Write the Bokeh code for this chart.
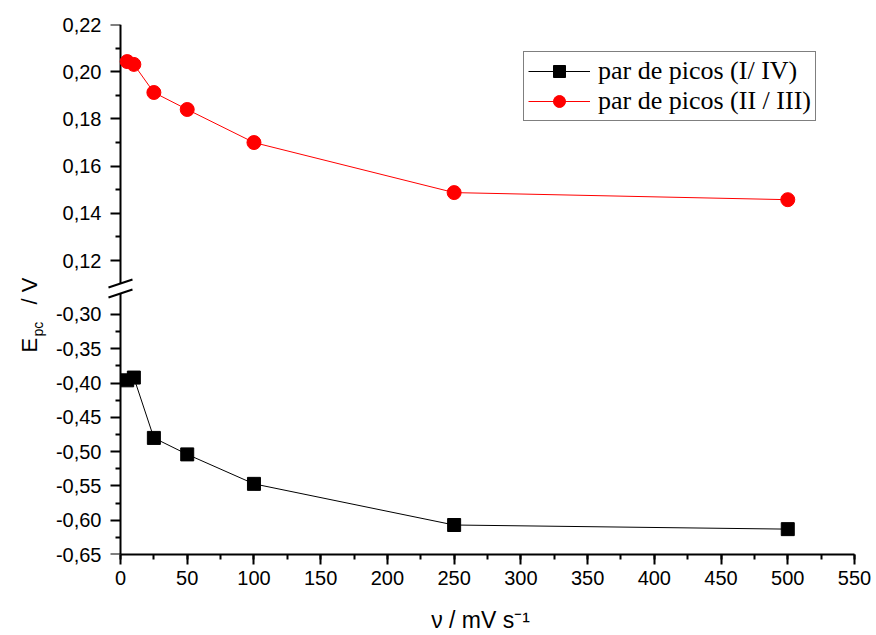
import math
from bokeh.plotting import figure
from bokeh.layouts import row
from bokeh.models import (Range1d, LinearAxis, FixedTicker, SingleIntervalTicker,
                          CustomJSTickFormatter, Label, Legend, LegendItem)
from bokeh.embed import file_html
from bokeh.resources import INLINE

# ---------------- data ----------------
scan_rate = [5, 10, 25, 50, 100, 250, 500]                 # mV s-1
e_pc_I_IV = [-0.396, -0.392, -0.480, -0.504, -0.547, -0.607, -0.613]
e_pc_II_III = [0.2043, 0.2031, 0.1912, 0.1840, 0.1700, 0.1488, 0.1458]

top_ticks = [0.12, 0.14, 0.16, 0.18, 0.20, 0.22]
top_labels = ["0,12", "0,14", "0,16", "0,18", "0,20", "0,22"]
top_minor = [0.13, 0.15, 0.17, 0.19, 0.21]
bottom_ticks = [-0.65, -0.60, -0.55, -0.50, -0.45, -0.40, -0.35, -0.30]
bottom_labels = ["-0,65", "-0,60", "-0,55", "-0,50", "-0,45", "-0,40", "-0,35", "-0,30"]
bottom_minor = [-0.625, -0.575, -0.525, -0.475, -0.425, -0.375, -0.325]

label_I_IV = "par de picos (I/ IV)"
label_II_III = "par de picos (II / III)"
x_title = "ν / mV s⁻¹"

# ---------------- layout geometry (absolute pixels) ----------------
W, H = 876, 635
WL = 50                     # width of the strip holding the y title
FL, FR, FT, FB = 106, 854, 24, 554      # frame edges (absolute)
AX0 = 120                               # pixel of x = 0 (y axis position)
TOP_BREAK, BOT_BREAK = 283, 293         # ends of the two axis segments
TOP_LO, TOP_HI = 0.1103, 0.22           # visible value span of upper segment
BOT_LO, BOT_HI = -0.65, -0.2694         # visible value span of lower segment
X_MAX = 550

top_per_px = (TOP_HI - TOP_LO) / (TOP_BREAK - FT)
y_start = TOP_HI - (FB - FT) * top_per_px
bot_per_px = (BOT_HI - BOT_LO) / (FB - BOT_BREAK)
bot_end = BOT_LO + (FB - FT) * bot_per_px
x_per_px = X_MAX / (FR - AX0)
x_start = -(AX0 - FL) * x_per_px


def px_x(px):
    return (px - AX0) * x_per_px


def px_y(py):
    return TOP_HI - (py - FT) * top_per_px


def bot_to_main(v):
    py = FB - (v - BOT_LO) / bot_per_px
    return px_y(py)


p = figure(width=W - WL, height=H, x_range=Range1d(x_start, X_MAX),
           y_range=Range1d(y_start, TOP_HI), y_axis_location=None,
           output_backend="svg", toolbar_location=None, title=None,
           min_border_left=FL - WL, min_border_right=W - FR,
           min_border_top=FT, min_border_bottom=H - FB)
p.extra_y_ranges = {"bottom": Range1d(BOT_LO, bot_end)}
p.outline_line_color = None
p.xgrid.visible = False
p.ygrid.visible = False
p.background_fill_color = "white"
p.border_fill_color = "white"

# ---------- x axis ----------
xa = p.xaxis[0]
xa.bounds = (0, X_MAX)
xa.ticker = SingleIntervalTicker(interval=50, num_minor_ticks=2)
xa.axis_line_width = 2
xa.major_tick_in = 0
xa.major_tick_out = 10
xa.minor_tick_in = 0
xa.minor_tick_out = 5
xa.major_tick_line_width = 2
xa.minor_tick_line_width = 2
xa.major_label_standoff = 6
xa.major_label_text_font = "Liberation Sans"
xa.major_label_text_font_size = "20px"
xa.major_label_text_color = "black"
xa.axis_label = x_title
xa.axis_label_text_font = "Liberation Sans"
xa.axis_label_text_font_style = "normal"
xa.axis_label_text_font_size = "23px"
xa.axis_label_text_color = "black"
xa.axis_label_standoff = 19

# ---------- y axis (broken) ----------
tick_pos = top_ticks + [bot_to_main(v) for v in bottom_ticks]
tick_lab = top_labels + bottom_labels
minor_pos = top_minor + [bot_to_main(v) for v in bottom_minor]
fmt = CustomJSTickFormatter(args=dict(pos=tick_pos, labs=tick_lab), code="""
let best = 0;
for (let i = 0; i < pos.length; i++) {
  if (Math.abs(pos[i] - tick) < Math.abs(pos[best] - tick)) best = i;
}
return labs[best];
""")
# labels (in the left panel)
ya = LinearAxis(ticker=FixedTicker(ticks=tick_pos, minor_ticks=[]),
                formatter=fmt, axis_line_color=None,
                major_tick_in=0, major_tick_out=0, minor_tick_in=0, minor_tick_out=0,
                major_tick_line_color=None, minor_tick_line_color=None,
                major_label_standoff=5, major_label_text_font="Liberation Sans",
                major_label_text_font_size="20px", major_label_text_color="black")
p.add_layout(ya, "left")
# tick marks at x = 0
yt = LinearAxis(fixed_location=0, ticker=FixedTicker(ticks=tick_pos, minor_ticks=minor_pos),
                formatter=CustomJSTickFormatter(code='return ""'), axis_line_color=None,
                major_tick_in=10, major_tick_out=0, minor_tick_in=5, minor_tick_out=0,
                major_tick_line_width=2, minor_tick_line_width=2,
                major_label_standoff=0, major_label_text_font_size="1px")
p.add_layout(yt, "right")

# axis line segments and break marks
p.segment(x0=[0], y0=[TOP_LO], x1=[0], y1=[TOP_HI], line_color="black", line_width=2)
p.segment(x0=[0], y0=[BOT_LO], x1=[0], y1=[BOT_HI], line_color="black", line_width=2,
          y_range_name="bottom")
p.segment(x0=[px_x(108), px_x(108)], y0=[px_y(287), px_y(297)],
          x1=[px_x(132), px_x(132)], y1=[px_y(279), px_y(289)],
          line_color="black", line_width=2, level="overlay")

# ---------- data ----------
l2 = p.line(scan_rate, e_pc_II_III, line_color="red", line_width=1)
s2 = p.scatter(scan_rate, e_pc_II_III, marker="circle", size=14,
               fill_color="red", line_color="red")
l1 = p.line(scan_rate, e_pc_I_IV, line_color="black", line_width=1, y_range_name="bottom")
s1 = p.scatter(scan_rate, e_pc_I_IV, marker="square", size=13,
               fill_color="black", line_color="black", y_range_name="bottom")

legend = Legend(items=[LegendItem(label=label_I_IV, renderers=[l1, s1]),
                       LegendItem(label=label_II_III, renderers=[l2, s2])],
                location=(523 - FL, FB - 121), orientation="vertical",
                border_line_color="black", border_line_width=1,
                background_fill_color="white", background_fill_alpha=1,
                padding=4, spacing=0, margin=0, glyph_width=62, glyph_height=30,
                label_standoff=8, label_height=26, label_text_font="Liberation Serif",
                label_text_font_size="26px", label_text_color="black")
p.add_layout(legend)

# ---------- y title strip (frame aligned with the main frame) ----------
ys = figure(width=WL, height=H, x_range=Range1d(0, WL), y_range=Range1d(FB, FT),
            x_axis_location=None, y_axis_location=None, output_backend="svg",
            toolbar_location=None, title=None,
            min_border_left=0, min_border_right=0,
            min_border_top=FT, min_border_bottom=H - FB)
ys.outline_line_color = None
ys.xgrid.visible = False
ys.ygrid.visible = False
ang = math.pi / 2
for txt, bx, by, fs in [("E", 29, 352, "22px"), ("pc", 37, 336, "14px"), ("/ V", 29, 304, "22px")]:
    ys.add_layout(Label(x=bx, y=by, text=txt, angle=ang,
                        text_align="left", text_baseline="alphabetic",
                        text_font="Liberation Sans", text_font_size=fs, text_color="black"))

layout = row(ys, p, spacing=0)
open("out.html", "w").write(file_html(layout, INLINE))
